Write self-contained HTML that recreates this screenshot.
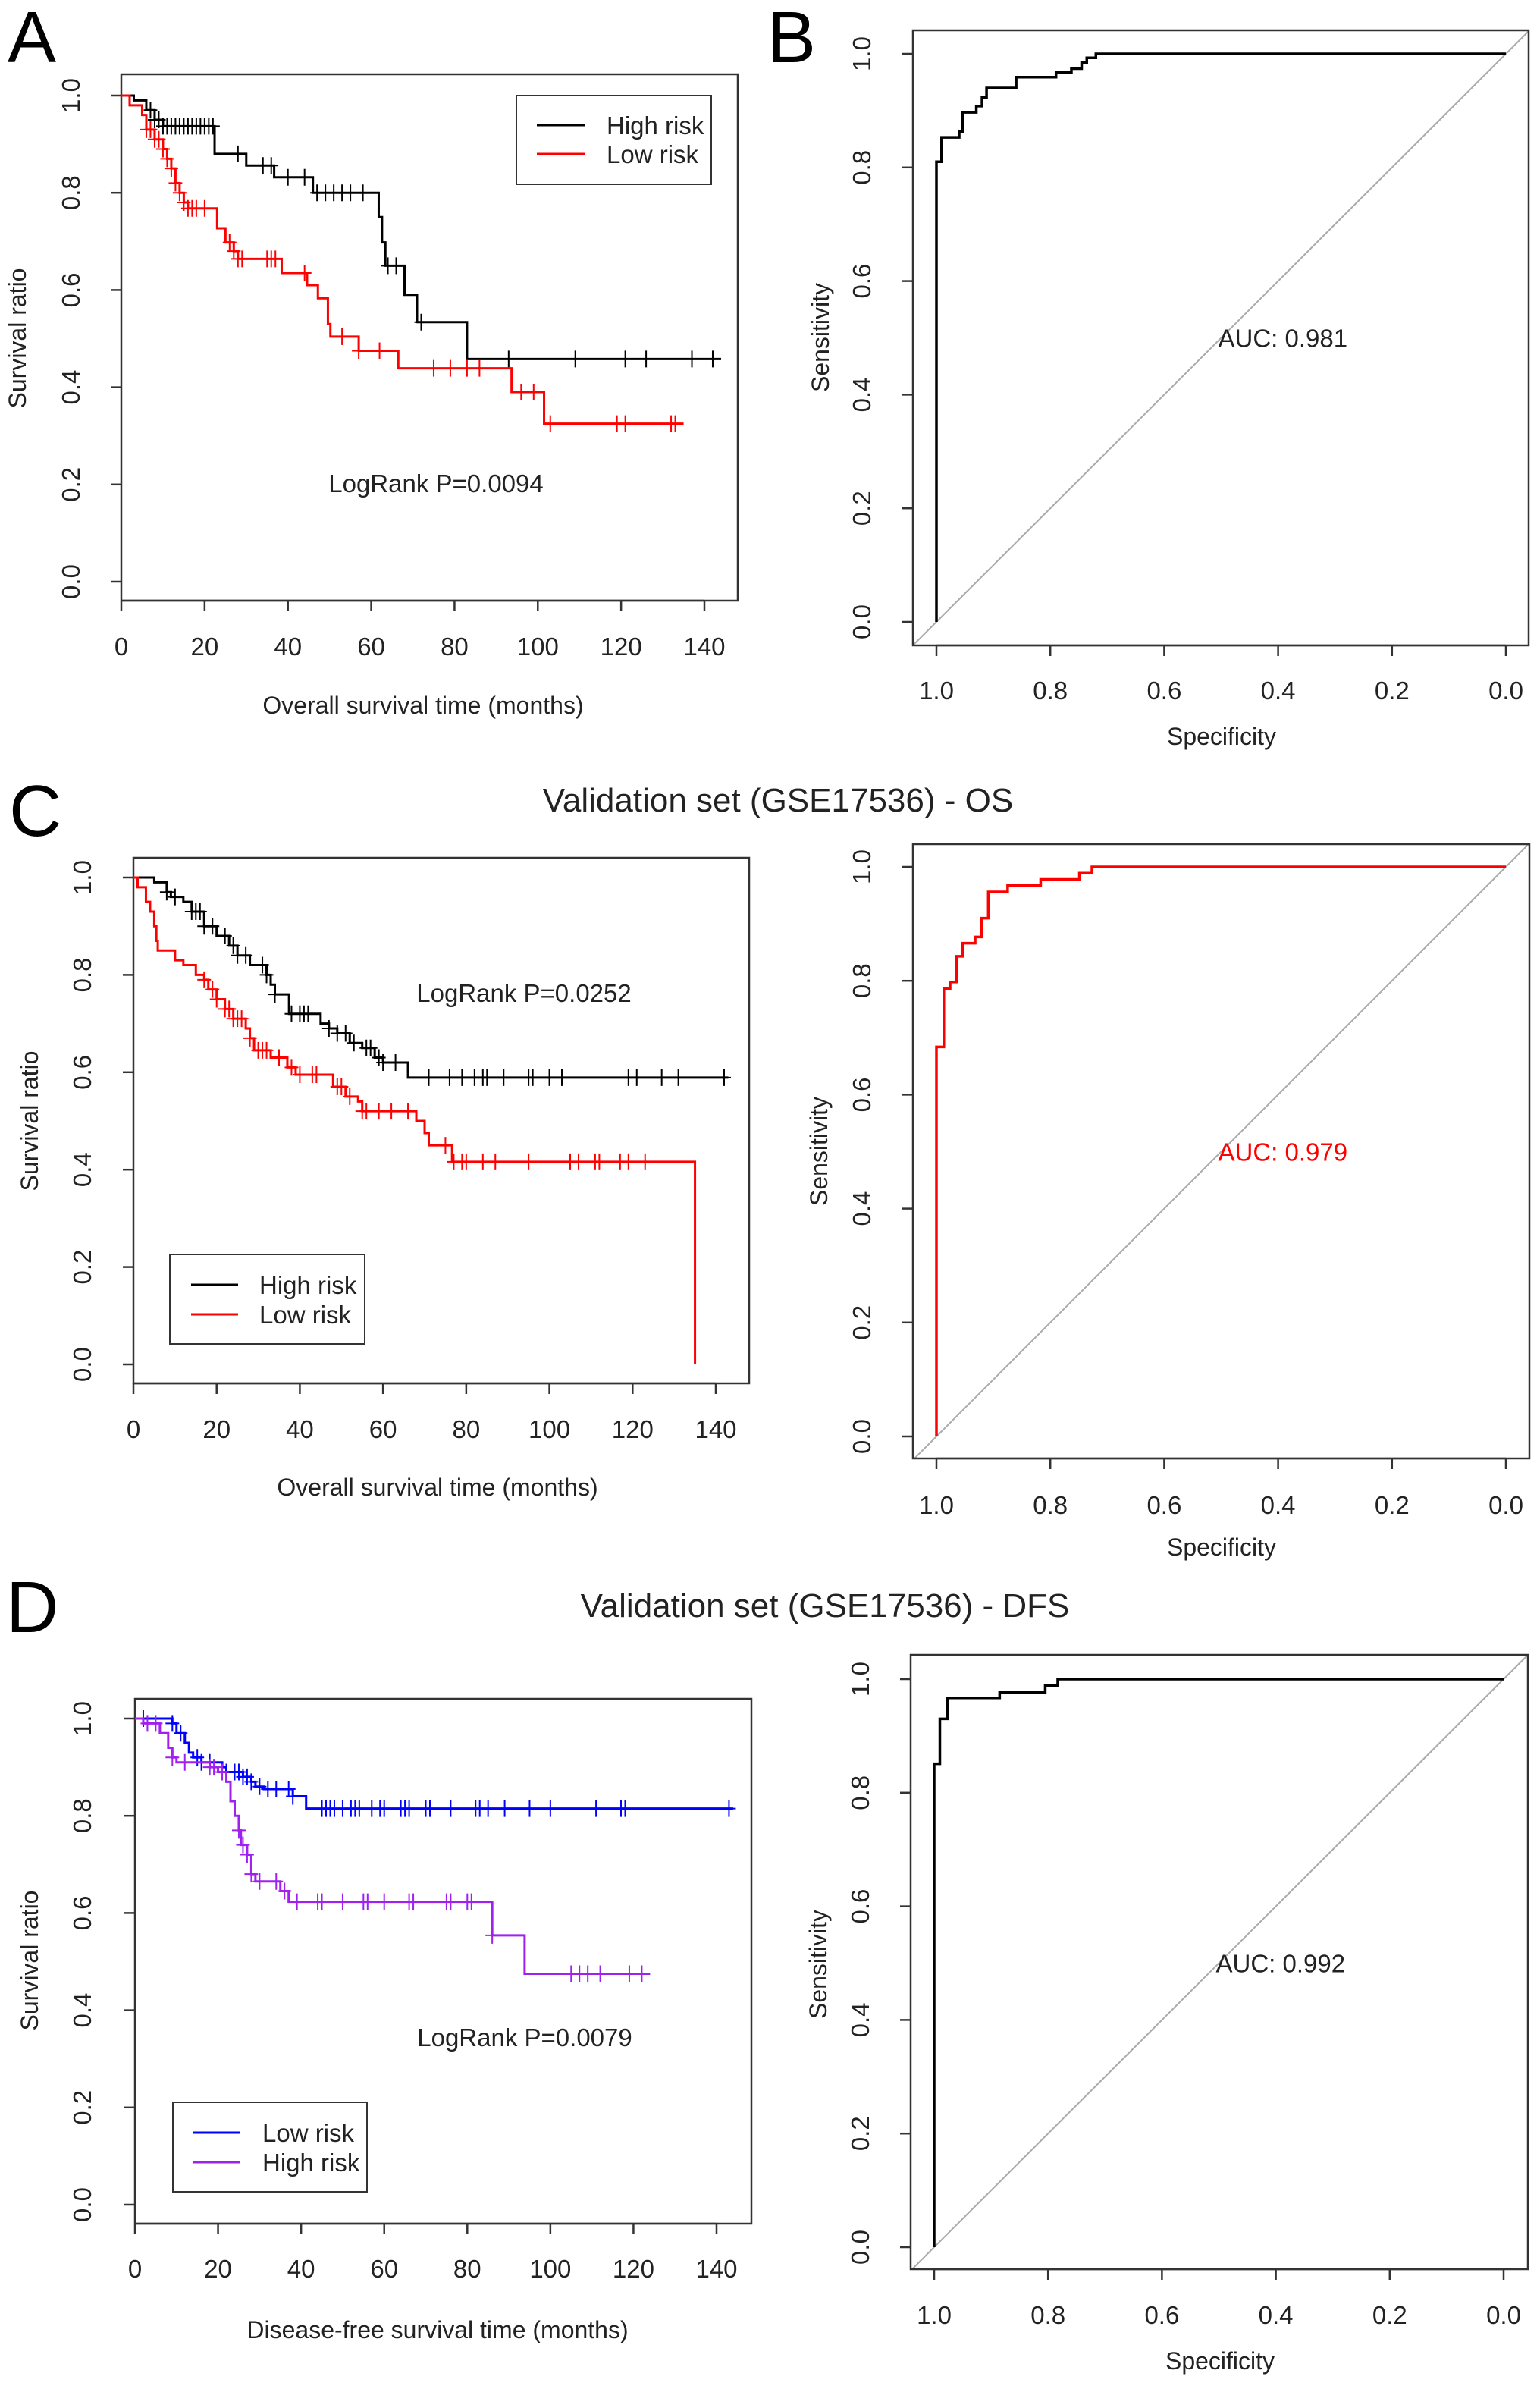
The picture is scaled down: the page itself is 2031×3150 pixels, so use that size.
<!DOCTYPE html>
<html><head><meta charset="utf-8"><style>
html,body{margin:0;padding:0;background:#fff;}
svg{display:block;font-family:"Liberation Sans",sans-serif;}
</style></head><body>
<svg id="fig" width="2031" height="3150" viewBox="0 0 2031 3150" xmlns="http://www.w3.org/2000/svg">
<rect width="2031" height="3150" fill="#fff"/>
<text x="10" y="82" font-size="96">A</text>
<text x="1012" y="82" font-size="96">B</text>
<text x="12" y="1102" font-size="96">C</text>
<text x="8" y="2152" font-size="96">D</text>
<text x="1026" y="1070" font-size="44" text-anchor="middle" fill="#222">Validation set (GSE17536) - OS</text>
<text x="1088" y="2132" font-size="44" text-anchor="middle" fill="#222">Validation set (GSE17536) - DFS</text>
<g id="plots"></g>
</svg>
<script>
// ---------- Panel A data ----------
const aHighT=[0,3,6,8,10,22.4,30,36.7,46,61.8,62.6,63.4,68,71,83];
const aHighSurv=[1,0.99,0.97,0.95,0.937,0.88,0.856,0.832,0.80,0.75,0.698,0.65,0.59,0.534,0.458];
const aHighEnd=144;
const aHighCens=[7,8,9,10,11,12,13,14,15,16,17,18,19,20,21,22,28,34,36,40,44,47,49,51,53,55,58,64,66,72,93,109,121,126,137,142];
const aLowT=[0,2,5,6,8,10,11,12,13,14,15,16,23,25,27,28,38.5,44.6,47.2,49.6,50.2,57,66.5,93.7,101.5];
const aLowSurv=[1,0.98,0.96,0.93,0.91,0.89,0.87,0.85,0.82,0.80,0.78,0.768,0.727,0.698,0.68,0.664,0.635,0.61,0.583,0.53,0.504,0.475,0.439,0.39,0.325];
const aLowEnd=135;
const aLowCens=[6,7,8,9,10,11,12,13,14,15,16,17,18,20,26,27,28,29,35,36,37,44,53,57,62,75,79,83,86,96,99,103,119,121,132,133];
// ---------- Panel C data ----------
const cHighT=[0,5,8,9,12,14,17,20,23,25,28,32,33,34,37.4,45,47,49,52,55,58,60,66];
const cHighSurv=[1,0.99,0.97,0.96,0.95,0.93,0.90,0.88,0.86,0.84,0.82,0.80,0.78,0.76,0.72,0.70,0.69,0.68,0.66,0.65,0.63,0.62,0.589];
const cHighEnd=143;
const cHighCens=[8,10,14,15,16,17,19,22,24,25,27,31,32,34,38,40,41,42,47,49,51,53,56,57,59,60,63,71,76,79,82,84,85,89,95,96,100,103,119,121,127,131,142];
const cLowT=[0,1,3,4,5,5.5,5.85,10,12,15,17,18,20,22,24,27,28,29,33,37,39,48,51,54,55,68,70,71,76.6,135];
const cLowSurv=[1,0.98,0.95,0.93,0.90,0.87,0.85,0.83,0.82,0.80,0.79,0.77,0.75,0.73,0.71,0.69,0.67,0.645,0.63,0.61,0.595,0.57,0.55,0.54,0.52,0.50,0.475,0.45,0.416,0];
const cLowEnd=135;
const cLowCens=[17,19,20,22,23,24,25,26,28,30,31,32,35,38,40,43,44,49,50,52,55,56,59,62,66,75,77,79,80,84,87,95,105,107,111,112,117,119,123];
// ---------- Panel D data ----------
const dLowT=[0,9,10,12,13,14,16,21,22,26,28,29,31,38,41.2];
const dLowSurv=[1,0.99,0.97,0.95,0.93,0.92,0.91,0.90,0.89,0.88,0.87,0.86,0.855,0.84,0.815];
const dLowEnd=144;
const dLowCens=[2,9,11,15,16,18,22,24,25,26,27,28,30,32,34,37,38,45,46,47,48,50,52,53,54,57,59,60,64,65,66,70,71,76,82,83,85,89,95,100,111,117,118,143];
const dHighT=[0,2,6,8,9,10,18,20,22,23,24,25,25.5,27,28,29,35,37,86,93.8];
const dHighSurv=[1,0.99,0.97,0.94,0.92,0.91,0.90,0.89,0.87,0.83,0.80,0.77,0.74,0.72,0.68,0.665,0.645,0.623,0.554,0.475];
const dHighEnd=124;
const dHighCens=[3,5,9,12,18,19,21,25,26,27,28,30,34,36,39,44,45,50,55,56,60,66,67,75,76,80,81,86,105,107,109,112,119,122];
// ---------- ROC data (specificity, sensitivity corner points) ----------
const bSpec=[1,1,0.991,0.991,0.96,0.96,0.954,0.954,0.93,0.93,0.92,0.92,0.912,0.912,0.86,0.86,0.79,0.79,0.763,0.763,0.745,0.745,0.736,0.736,0.72,0.72,0];
const bSens=[0,0.81,0.81,0.853,0.853,0.863,0.863,0.897,0.897,0.908,0.908,0.923,0.923,0.94,0.94,0.959,0.959,0.967,0.967,0.974,0.974,0.985,0.985,0.993,0.993,1,1];
const cSpec=[1,1,0.987,0.987,0.976,0.976,0.965,0.965,0.954,0.954,0.932,0.932,0.921,0.921,0.909,0.909,0.875,0.875,0.817,0.817,0.749,0.749,0.727,0.727,0];
const cSens=[0,0.684,0.684,0.786,0.786,0.798,0.798,0.843,0.843,0.866,0.866,0.877,0.877,0.91,0.91,0.956,0.956,0.967,0.967,0.978,0.978,0.989,0.989,1,1];
const dSpec=[1,1,0.99,0.99,0.977,0.977,0.885,0.885,0.805,0.805,0.783,0.783,0];
const dSens=[0,0.851,0.851,0.93,0.93,0.967,0.967,0.977,0.977,0.989,0.989,1,1];
const kmXTicks=[0,20,40,60,80,100,120,140];
const yTicks=[0,0.2,0.4,0.6,0.8,1.0];
const rocXTicks=[1.0,0.8,0.6,0.4,0.2,0.0];

const NS="http://www.w3.org/2000/svg";
const root=document.getElementById('plots');
function mk(tag,attrs,parent){const e=document.createElementNS(NS,tag);for(const k in attrs)e.setAttribute(k,attrs[k]);(parent||root).appendChild(e);return e;}
function txt(s,attrs,parent){const e=mk('text',attrs,parent);e.textContent=s;return e;}

function frame(g,L,R,T,B,xs,ys,xt,yt,xlab,ylab,geo){
  const box=mk('rect',{x:L,y:T,width:R-L,height:B-T,fill:'none',stroke:'#333','stroke-width':2.5},g);
  
  
  xt.forEach(v=>{
    const x=xs(v);
    const t=mk('line',{x1:x,y1:B,x2:x,y2:B+14,stroke:'#333','stroke-width':2.5},g);
    
    
    const l=txt(v.toFixed(geo.xdec),{x:x,y:geo.xly,'font-size':33,'text-anchor':'middle',fill:'#222'},g);
    
    
  });
  const ax=mk('line',{x1:xs(xt[0]),y1:B,x2:xs(xt[xt.length-1]),y2:B,stroke:'#333','stroke-width':2.5},g);
  
  
  yt.forEach(v=>{
    const y=ys(v);
    const t=mk('line',{x1:L,y1:y,x2:L-14,y2:y,stroke:'#333','stroke-width':2.5},g);
    
    
    const l=txt(v.toFixed(1),{x:0,y:0,'font-size':33,'text-anchor':'middle',fill:'#222',transform:`translate(${geo.ylx},${y}) rotate(-90)`},g);
    
    
  });
  const xl=txt(xlab,{x:geo.xlabx,y:geo.xlaby,'font-size':32,'text-anchor':'middle',fill:'#222'},g);
  
  
  const yl=txt(ylab,{x:0,y:0,'font-size':32,'text-anchor':'middle',fill:'#222',transform:`translate(${geo.ylabx},${geo.ylaby}) rotate(-90)`},g);
  
  
}

function km(g,xs,ys,T,S,end,cens,color,name){
  let d=`M${xs(T[0])},${ys(S[0])}`;
  for(let i=1;i<T.length;i++){d+=` H${xs(T[i])} V${ys(S[i])}`;}
  d+=` H${xs(end)}`;
  const p=mk('path',{d:d,fill:'none',stroke:color,'stroke-width':3},g);
  
  
  cens.forEach(t=>{
    let s=S[0];for(let i=0;i<T.length;i++){if(T[i]<=t)s=S[i];}
    const x=xs(t),y=ys(s);
    const c=mk('path',{d:`M${x},${y-11} V${y+11} M${x-9},${y} H${x+9}`,stroke:color,'stroke-width':2},g);
    
    
  });
}

function legend(g,x1,y1,x2,y2,lx1,lx2,tx,items){
  const r=mk('rect',{x:x1,y:y1,width:x2-x1,height:y2-y1,fill:'#fff',stroke:'#333','stroke-width':2},g);
  
  
  items.forEach(it=>{
    const l=mk('line',{x1:lx1,y1:it.y,x2:lx2,y2:it.y,stroke:it.c,'stroke-width':3},g);
    
    
    const t=txt(it.t,{x:tx,y:it.y+12,'font-size':33,fill:'#222'},g);
    
    
  });
}

function kmPanel(id,P,series,leg,pText,xlab){
  const g=mk('g',{});
  
  
  const xs=v=>P.x0+(v/140)*(P.x140-P.x0);
  const ys=v=>P.y0+v*(P.y1-P.y0);
  frame(g,P.L,P.R,P.T,P.B,xs,ys,kmXTicks,yTicks,xlab,'Survival ratio',
    {xdec:0,xly:P.xly,ylx:P.ylx,xlabx:P.xlabx,xlaby:P.xlaby,ylabx:P.ylabx,ylaby:P.ylaby});
  series.forEach(s=>km(g,xs,ys,s.T,s.S,s.end,s.cens,s.c,s.n));
  legend(g,...leg);
  const pt=txt(pText.s,{x:pText.x,y:pText.y,'font-size':33,'text-anchor':'middle',fill:'#222'},g);
  
  
}

function rocPanel(id,P,spec,sens,color,auc){
  const g=mk('g',{});
  
  
  const xs=v=>P.x0+(1-v)*(P.x1-P.x0);
  const ys=v=>P.y0+v*(P.y1-P.y0);
  const cid=id+'-clip';
  const cp=mk('clipPath',{id:cid},g);mk('rect',{x:P.L,y:P.T,width:P.R-P.L,height:P.B-P.T},cp);
  const dg=mk('line',{x1:xs(1.2),y1:ys(-0.2),x2:xs(-0.2),y2:ys(1.2),stroke:'#aaa','stroke-width':2,'clip-path':`url(#${cid})`},g);
  
  
  frame(g,P.L,P.R,P.T,P.B,xs,ys,rocXTicks,yTicks,'Specificity','Sensitivity',
    {xdec:1,xly:P.xly,ylx:P.ylx,xlabx:P.xlabx,xlaby:P.xlaby,ylabx:P.ylabx,ylaby:P.ylaby});
  const pts=spec.map((s,i)=>`${xs(s)},${ys(sens[i])}`).join(' ');
  const pl=mk('polyline',{points:pts,fill:'none',stroke:color,'stroke-width':3.5},g);
  
  
  const at=txt('AUC: '+auc,{x:xs(0.5)-4,y:ys(0.5)+12,'font-size':33,fill:color==='#000'?'#222':color},g);
  
  
}

// Panel A
kmPanel('panel-a-km',{L:160,R:973,T:98,B:792,x0:160,x140:929,y0:767,y1:126,xly:864,ylx:105,xlabx:558,xlaby:941,ylabx:34,ylaby:446},
  [{T:aHighT,S:aHighSurv,end:aHighEnd,cens:aHighCens,c:'#000',n:'high-risk'},{T:aLowT,S:aLowSurv,end:aLowEnd,cens:aLowCens,c:'#f00',n:'low-risk'}],
  [681,126,938,243,708,772,800,[{y:165,c:'#000',t:'High risk'},{y:203,c:'#f00',t:'Low risk'}]],
  {s:'LogRank  P=0.0094',x:575,y:649},'Overall survival time  (months)');
// Panel B
rocPanel('panel-b-roc',{L:1204,R:2016,T:40,B:851,x0:1235,x1:1986,y0:820,y1:71,xly:922,ylx:1148,xlabx:1611,xlaby:982,ylabx:1093,ylaby:445},bSpec,bSens,'#000','0.981');
// Panel C
kmPanel('panel-c-km',{L:176,R:988,T:1131,B:1824,x0:176,x140:944,y0:1799,y1:1157,xly:1896,ylx:120,xlabx:577,xlaby:1972,ylabx:50,ylaby:1478},
  [{T:cHighT,S:cHighSurv,end:cHighEnd,cens:cHighCens,c:'#000',n:'high-risk'},{T:cLowT,S:cLowSurv,end:cLowEnd,cens:cLowCens,c:'#f00',n:'low-risk'}],
  [224,1654,481,1772,252,314,342,[{y:1694,c:'#000',t:'High risk'},{y:1733,c:'#f00',t:'Low risk'}]],
  {s:'LogRank  P=0.0252',x:691,y:1321},'Overall survival time (months)');
// Panel C ROC
rocPanel('panel-c-roc',{L:1204,R:2017,T:1113,B:1923,x0:1235,x1:1986,y0:1894,y1:1143,xly:1996,ylx:1148,xlabx:1611,xlaby:2051,ylabx:1091,ylaby:1518},cSpec,cSens,'#f00','0.979');
// Panel D
kmPanel('panel-d-km',{L:178,R:991,T:2240,B:2932,x0:178,x140:945,y0:2907,y1:2266,xly:3003,ylx:120,xlabx:577,xlaby:3083,ylabx:50,ylaby:2585},
  [{T:dLowT,S:dLowSurv,end:dLowEnd,cens:dLowCens,c:'#0000ff',n:'low-risk'},{T:dHighT,S:dHighSurv,end:dHighEnd,cens:dHighCens,c:'#a020f0',n:'high-risk'}],
  [228,2772,484,2890,255,317,346,[{y:2812,c:'#0000ff',t:'Low risk'},{y:2851,c:'#a020f0',t:'High risk'}]],
  {s:'LogRank  P=0.0079',x:692,y:2698},'Disease-free survival time (months)');
// Panel D ROC
rocPanel('panel-d-roc',{L:1201,R:2015,T:2182,B:2992,x0:1232,x1:1983,y0:2963,y1:2214,xly:3064,ylx:1146,xlabx:1609,xlaby:3124,ylabx:1090,ylaby:2590},dSpec,dSens,'#000','0.992');
</script>
</body></html>
